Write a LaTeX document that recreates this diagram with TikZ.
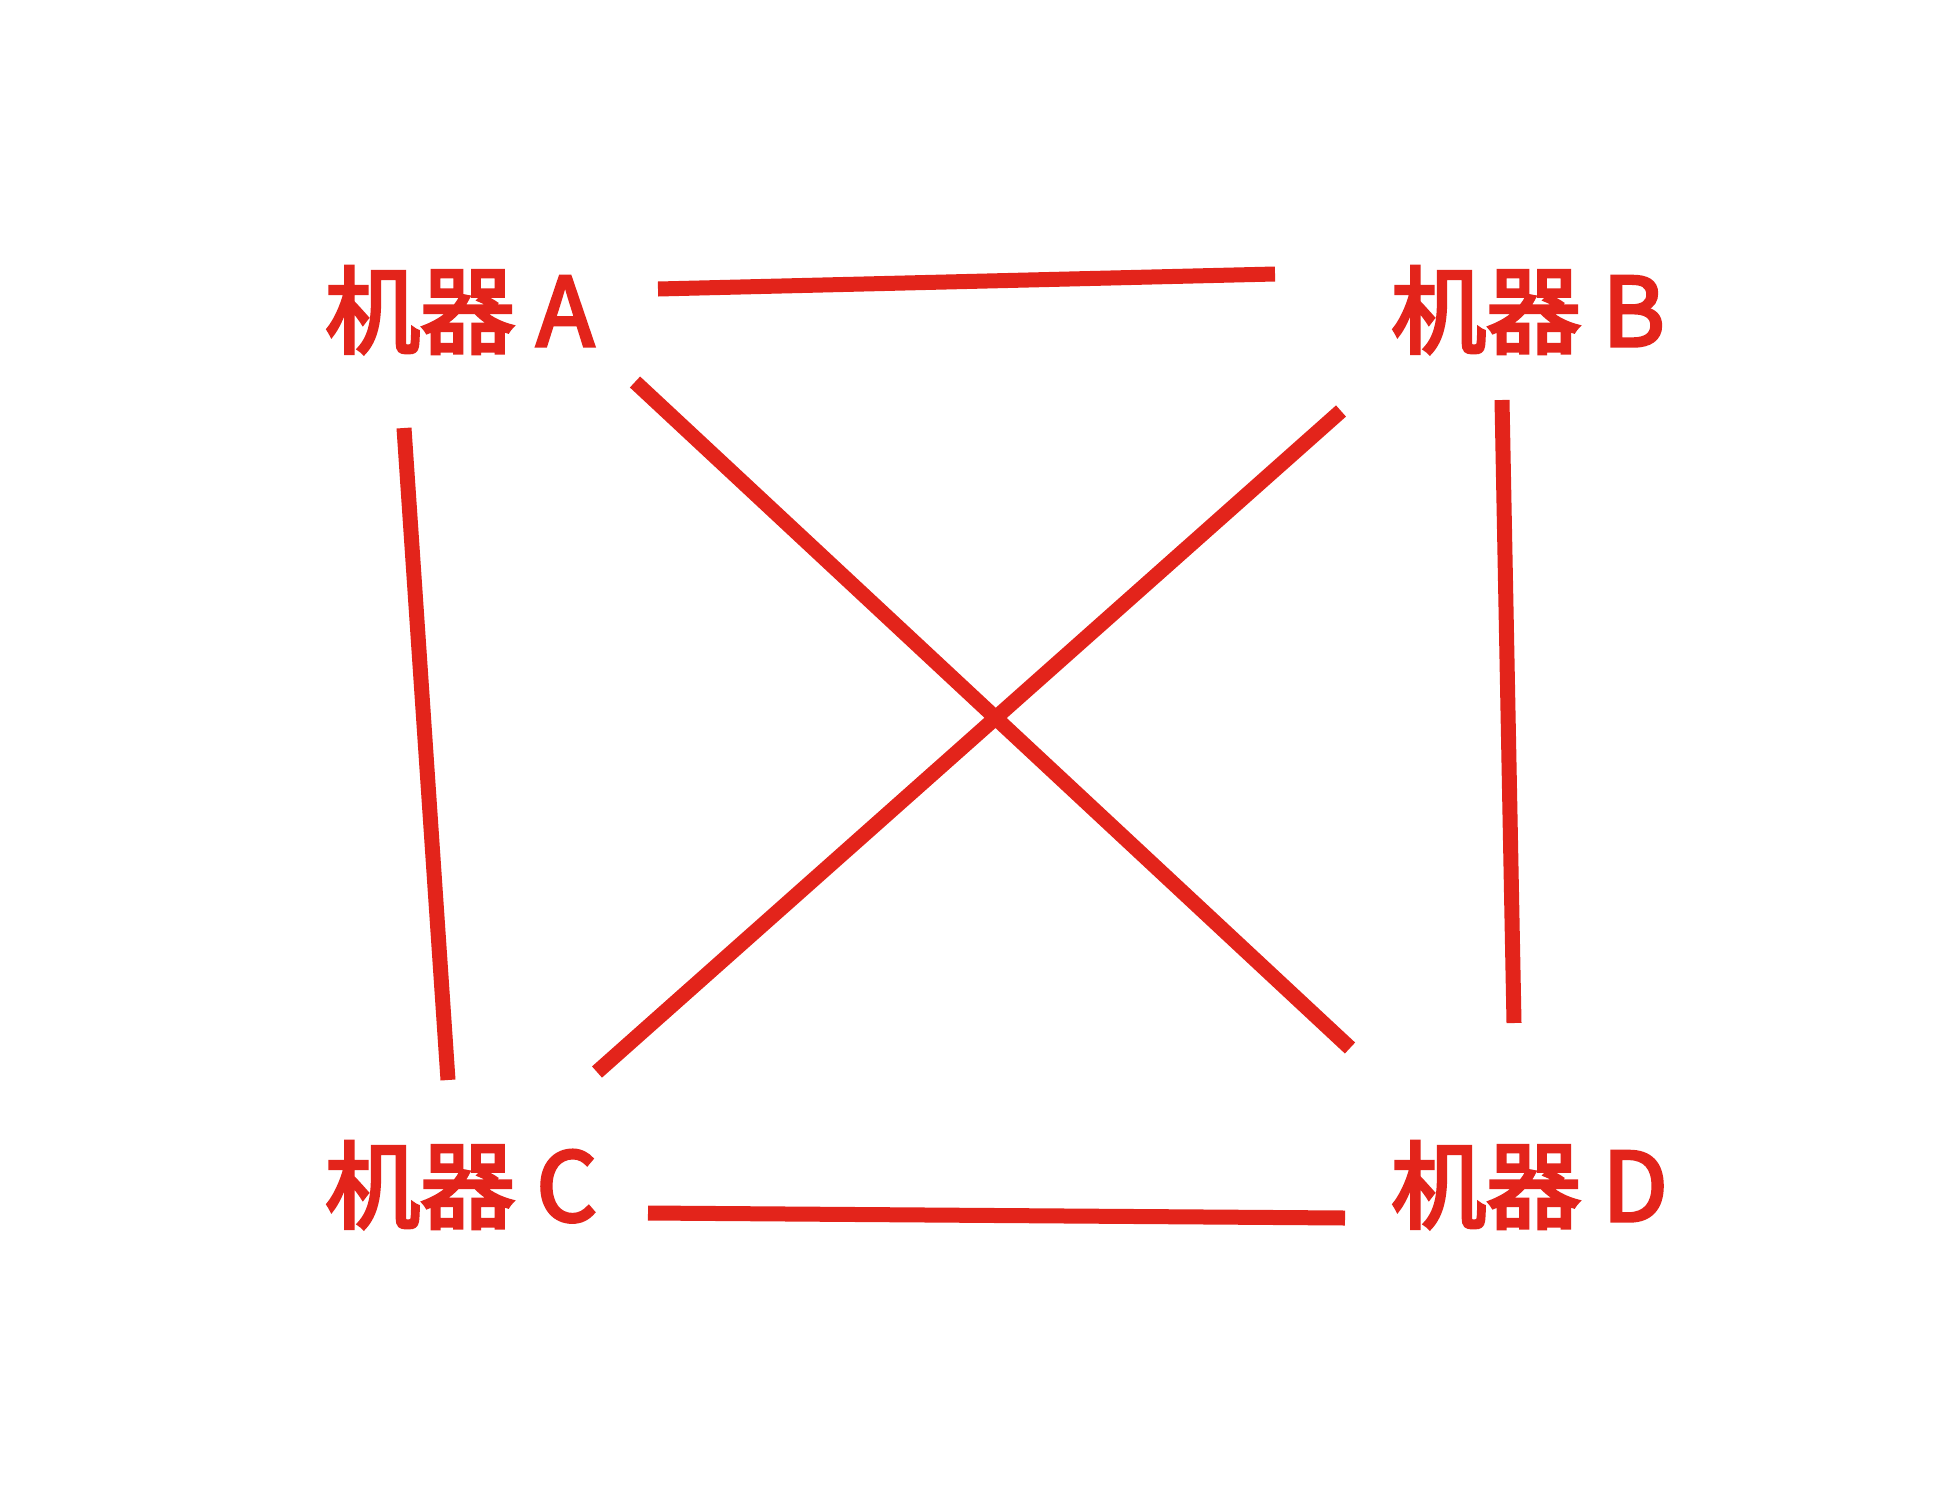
\documentclass[tikz,border=0pt]{standalone}
\usepackage{fontspec}
\setmainfont{Noto Sans CJK SC}[FakeBold=3.5]
\definecolor{linkred}{HTML}{E3241B}
\begin{document}
\begin{tikzpicture}[x=1pt,y=-1pt,
  machine/.style={anchor=base west,inner sep=0pt,text=linkred,font=\fontsize{95}{100}\selectfont},
  link/.style={draw=linkred,line width=15pt,line cap=butt}]
\useasboundingbox[fill=white] (0,0) rectangle (1944,1494);
\node[machine] (ma) at (325,346) {机器 A};
\node[machine] (mb) at (1391,346) {机器 B};
\node[machine] (mc) at (325,1221) {机器 C};
\node[machine] (md) at (1391,1221) {机器 D};
\coordinate (ab1) at (658,289);  \coordinate (ab2) at (1275,274);
\coordinate (ad1) at (635,382);  \coordinate (ad2) at (1350,1048);
\coordinate (bc1) at (1341,411); \coordinate (bc2) at (597,1072);
\coordinate (ac1) at (404,428);  \coordinate (ac2) at (448,1080);
\coordinate (bd1) at (1502,400); \coordinate (bd2) at (1514,1023);
\coordinate (cd1) at (648,1213); \coordinate (cd2) at (1345,1218);
\draw[link] (ab1) -- (ab2);
\draw[link] (ad1) -- (ad2);
\draw[link] (bc1) -- (bc2);
\draw[link] (ac1) -- (ac2);
\draw[link] (bd1) -- (bd2);
\draw[link] (cd1) -- (cd2);
\end{tikzpicture}
\end{document}
